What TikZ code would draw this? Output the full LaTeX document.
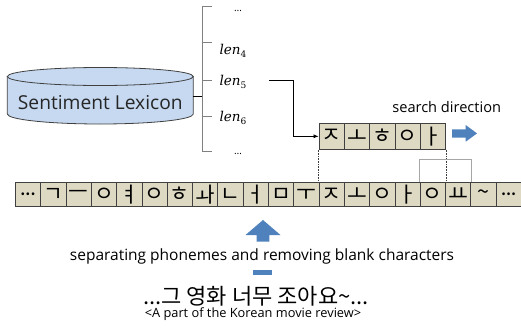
\documentclass[tikz,border=0pt]{standalone}
\usepackage{fontspec}
\setmainfont{Open Sans}
\newfontfamily\kr{Noto Sans CJK KR}
\newfontfamily\dvs{DejaVu Serif}
\usetikzlibrary{arrows.meta}
\definecolor{cellfill}{HTML}{DDD9C3}
\definecolor{cylfill}{HTML}{C6D9F1}
\definecolor{blueA}{HTML}{4F81BD}
\definecolor{edge}{HTML}{404040}
\definecolor{brk}{HTML}{808080}
\newcommand{\lenlab}[1]{{\dvs\itshape len}\raisebox{-3pt}{\dvs\fontsize{9}{9}\selectfont #1}}
\newcommand{\celldots}{{\bfseries\fontsize{13}{13}\selectfont .\kern0.5pt.\kern0.5pt.}}
\begin{document}
\begin{tikzpicture}[x=1pt,y=-1pt,
  cell/.style={draw=edge, line width=0.7pt, fill=cellfill, minimum width=25.3pt,
    minimum height=24pt, inner sep=0pt, anchor=west, font=\kr\fontsize{21.5}{21.5}\selectfont},
  topcell/.style={cell, minimum height=26pt},
  lab/.style={inner sep=0pt, font=\fontsize{13.5}{13.5}\selectfont, anchor=base west},
  tick/.style={draw=brk, line width=0.8pt}]
\useasboundingbox (0,0) rectangle (521,327);

% sentiment lexicon drawn as a cylinder
\fill[cylfill] (7.3,76.5) -- (7.3,114)
  arc[start angle=180, end angle=0, x radius=93, y radius=10]
  -- (193.3,76.5) arc[start angle=0, end angle=-180, x radius=93, y radius=9] -- cycle;
\draw[edge, line width=0.8pt] (7.3,76.5) -- (7.3,114)
  arc[start angle=180, end angle=0, x radius=93, y radius=10] -- (193.3,76.5);
\draw[edge, line width=0.8pt] (100.3,76.5) ellipse[x radius=93, y radius=9];
\node[inner sep=0pt, font=\fontsize{19.2}{19}\selectfont, text=black!85] (lex) at (100.3,102.7) {Sentiment Lexicon};

% length buckets
\coordinate (lexE) at (193.3,96.7);
\coordinate (brkM) at (202.3,96.7);
\coordinate (brkT) at (202.3,6);
\coordinate (brkB) at (202.3,151.7);
\draw[line width=0.8pt] (lexE) -- (brkM);
\draw[tick] (brkT) -- (brkB);
\foreach \yy in {6,42.7,80,116,151.7}
  \draw[tick] (202.3,\yy) -- (211.5,\yy);
\node[inner sep=0pt, font=\fontsize{10}{10}\selectfont] (d1) at (238,11) {\dots};
\node[lab] (len4) at (219.3,54) {\lenlab{4}};
\node[lab] (len5) at (219.3,85) {\lenlab{5}};
\node[lab] (len6) at (219.3,121) {\lenlab{6}};
\node[inner sep=0pt, font=\fontsize{10}{10}\selectfont] (d2) at (238,154) {\dots};

% phoneme sequence of the review
\foreach \ch [count=\i from 0] in {\celldots,ㄱ,ㅡ,ㅇ,ㅕ,ㅇ,ㅎ,ㅘ,ㄴ,ㅓ,ㅁ,ㅜ,ㅈ,ㅗ,ㅇ,ㅏ,ㅇ,ㅛ,\textasciitilde,\celldots}
  \node[cell] (m\i) at (15+25.3*\i,194.5) {\ch};

% lexicon entry being searched
\foreach \ch [count=\i from 0] in {ㅈ,ㅗ,ㅎ,ㅇ,ㅏ}
  \node[topcell] (t\i) at (15+25.3*\i+25.3*12,136.3) {\ch};

\coordinate (l5out) at (269,80);
\draw[line width=0.7pt, -{Latex[length=5pt,width=4pt]}] (l5out) -- ++(24.5,0) |- (t0.west);

\draw[densely dotted, edge, line width=0.6pt] (t0.south west) -- (m12.north west);
\draw[densely dotted, edge, line width=0.6pt] (t4.south east) -- (m16.north east);
\draw[brk!70, line width=0.7pt] (m16.north west) -- ++(0,-23.2) -| (m17.north east);

% search direction
\node[inner sep=0pt, font=\fontsize{14.6}{15}\selectfont] (sd) at (446.7,106.7) {search direction};
\fill[blueA] (452,129.3) -- (465.7,129.3) -- (465.7,125) -- (477,133.4)
  -- (465.7,141.7) -- (465.7,137.5) -- (452,137.5) -- cycle;

% preprocessing step
\fill[blueA] (263,220) -- (280.5,235) -- (269.3,235) -- (269.3,241.5)
  -- (256.7,241.5) -- (256.7,235) -- (245.5,235) -- cycle;
\node[inner sep=0pt, font=\fontsize{15.5}{16}\selectfont] (sep) at (262,256)
  {separating phonemes and removing blank characters};
\fill[blueA] (252.7,270) rectangle (271.7,275);

\node[inner sep=0pt, font=\kr\fontsize{22}{22}\selectfont] (kor) at (256,296.5)
  {...그 영화 너무 조아요\textasciitilde...};
\node[inner sep=0pt, font=\fontsize{12.8}{13}\selectfont] (cap) at (253,314)
  {<A part of the Korean movie review>};
\end{tikzpicture}
\end{document}
